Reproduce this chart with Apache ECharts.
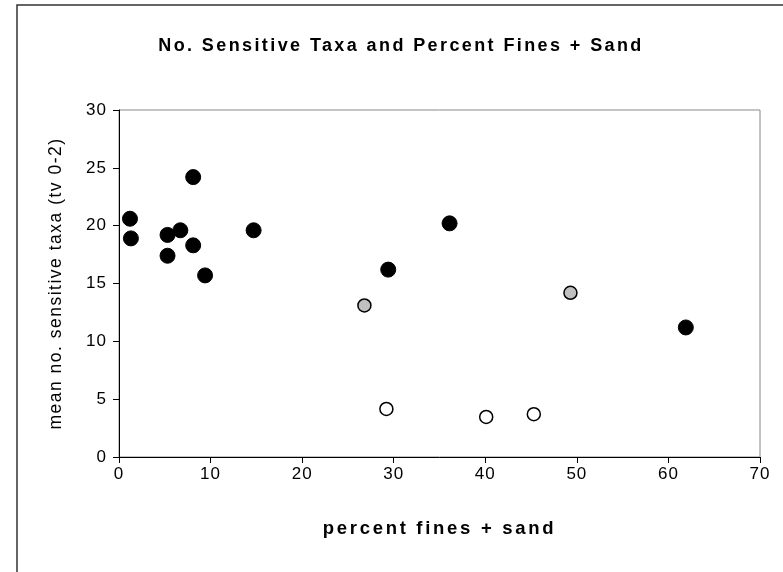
<!DOCTYPE html>
<html>
<head>
<meta charset="utf-8">
<script src="https://cdn.jsdelivr.net/npm/echarts@6/dist/echarts.min.js"></script>
<style>
  html, body { margin: 0; padding: 0; background: #fff; }
  #chart { width: 783px; height: 572px; }
</style>
</head>
<body>
<div id="chart"></div>
<script>
// [percent fines + sand, mean no. sensitive taxa]
const blackPoints = [
  [1.2, 20.6], [1.3, 18.9], [8.1, 24.2], [5.3, 19.2], [6.7, 19.6], [5.3, 17.4],
  [8.1, 18.3], [14.7, 19.6], [9.4, 15.7], [29.4, 16.2], [36.1, 20.2], [61.9, 11.2]
]
const grayPoints = [[26.8, 13.1], [49.3, 14.2]]
const whitePoints = [[29.2, 4.15], [40.1, 3.46], [45.3, 3.7]]

// the old spreadsheet look has spaced-out letters; canvas letterSpacing keyed on font size
const spacingBySize = { '18px': '2.4px', '18.5px': '2.7px', '17.5px': '1.5px', '17px': '1px' }
const fontDesc = Object.getOwnPropertyDescriptor(CanvasRenderingContext2D.prototype, 'font')
Object.defineProperty(CanvasRenderingContext2D.prototype, 'font', {
  get() { return fontDesc.get.call(this) },
  set(v) {
    fontDesc.set.call(this, v)
    const m = /(\d+(\.\d+)?px)/.exec(v)
    if ('letterSpacing' in this) this.letterSpacing = (m && spacingBySize[m[1]]) || '0px'
  },
})

const chart = echarts.init(document.getElementById('chart'))
const font = 'Liberation Sans, Arial, sans-serif'

chart.setOption({
  animation: false,
  title: {
    text: 'No. Sensitive Taxa and Percent Fines + Sand',
    left: 396, top: 31, textAlign: 'center',
    textStyle: { fontFamily: font, fontSize: 18, fontWeight: 'bold', color: '#000' },
  },
  graphic: [{
    type: 'rect',
    shape: { x: 17, y: 5, width: 800, height: 600 },
    style: { fill: 'none', stroke: '#333', lineWidth: 1.5 },
    z: -1,
  }],
  grid: { left: 119, top: 110, right: 23, bottom: 115, show: true, borderColor: '#888', borderWidth: 1 },
  xAxis: {
    type: 'value', min: 0, max: 70, interval: 10,
    name: 'percent fines + sand', nameLocation: 'middle', nameGap: 61,
    nameTextStyle: { fontFamily: font, fontSize: 18.5, fontWeight: 'bold', color: '#000' },
    axisLine: { lineStyle: { color: '#000', width: 1 } },
    axisTick: { show: true, inside: false, length: 6, lineStyle: { color: '#000' } },
    axisLabel: { fontFamily: font, fontSize: 17, color: '#000', margin: 8 },
    splitLine: { show: false },
  },
  yAxis: {
    type: 'value', min: 0, max: 30, interval: 5,
    name: 'mean no. sensitive taxa (tv 0-2)', nameLocation: 'middle', nameGap: 53,
    nameTextStyle: { fontFamily: font, fontSize: 17.5, color: '#000' },
    axisLine: { show: true, lineStyle: { color: '#000', width: 1 } },
    axisTick: { show: true, inside: false, length: 6, lineStyle: { color: '#000' } },
    axisLabel: { fontFamily: font, fontSize: 17, color: '#000', margin: 12 },
    splitLine: { show: false },
  },
  series: [
    {
      type: 'scatter', data: blackPoints, symbolSize: 15,
      itemStyle: { color: '#000', borderColor: '#000', borderWidth: 1, opacity: 1 },
    },
    {
      type: 'scatter', data: grayPoints, symbolSize: 13,
      itemStyle: { color: '#c0c0c0', borderColor: '#000', borderWidth: 1.5, opacity: 1 },
    },
    {
      type: 'scatter', data: whitePoints, symbolSize: 13,
      itemStyle: { color: '#fff', borderColor: '#000', borderWidth: 1.5, opacity: 1 },
    },
  ],
})
</script>
</body>
</html>
